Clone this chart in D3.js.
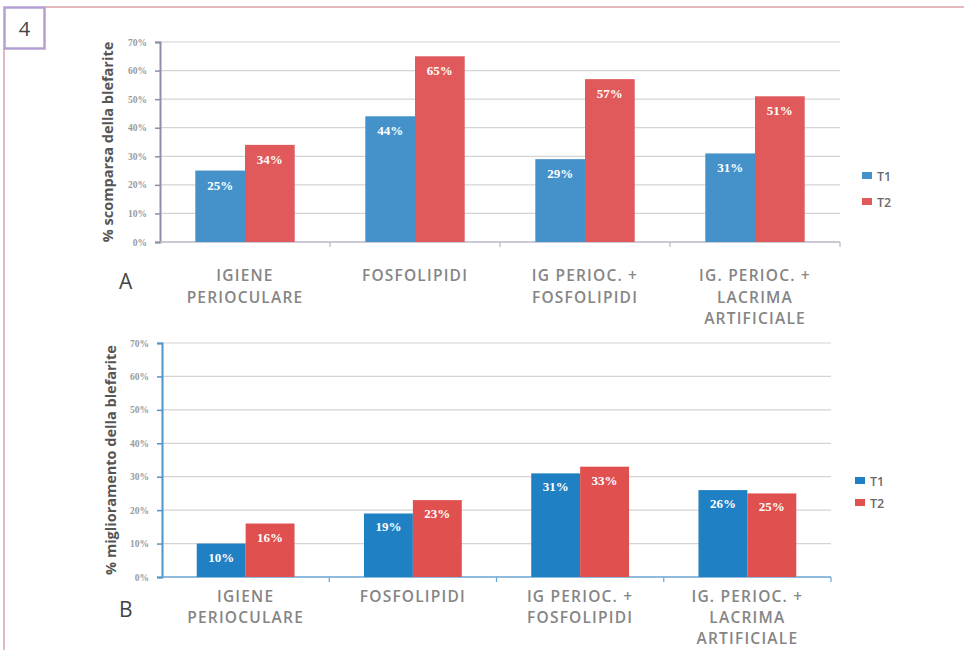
<!DOCTYPE html>
<html>
<head>
<meta charset="utf-8">
<script src="https://cdn.jsdelivr.net/npm/d3@7"></script>
<style>
  body { margin: 0; background: #fff; }
  svg { display: block; }
</style>
</head>
<body>
<svg id="fig" width="964" height="650"></svg>
<script>
// Categories (multi-line labels) shared by both panels
const categories = [
  ["IGIENE", "PERIOCULARE"],
  ["FOSFOLIPIDI"],
  ["IG PERIOC. +", "FOSFOLIPIDI"],
  ["IG. PERIOC. +", "LACRIMA", "ARTIFICIALE"]
];
const seriesNames = ["T1", "T2"];
const yTicks = [0, 10, 20, 30, 40, 50, 60, 70];

// Panel A: % scomparsa della blefarite
const scomparsaT1 = [25, 44, 29, 31];
const scomparsaT2 = [34, 65, 57, 51];
// Panel B: % miglioramento della blefarite
const miglioramentoT1 = [10, 19, 31, 26];
const miglioramentoT2 = [16, 23, 33, 25];

const svg = d3.select("#fig");

// Page frame and figure number box
svg.append("line").attr("x1", 45).attr("x2", 964).attr("y1", 7).attr("y2", 7)
  .attr("stroke", "#dba2a9").attr("stroke-width", 1.5);
svg.append("line").attr("x1", 4).attr("x2", 4).attr("y1", 48).attr("y2", 650)
  .attr("stroke", "#dba2a9").attr("stroke-width", 1.5);
svg.append("rect").attr("x", 4.5).attr("y", 7.5).attr("width", 40).attr("height", 41)
  .attr("fill", "#fff").attr("stroke", "#b59fd2").attr("stroke-width", 2.5);
svg.append("text").attr("x", 24.5).attr("y", 36).attr("text-anchor", "middle")
  .attr("font-family", "Open Sans, sans-serif").attr("font-size", 20)
  .attr("fill", "#444").text("4");

function drawPanel(opt) {
  const g = svg.append("g");
  const x = d3.scaleBand().domain(d3.range(categories.length))
    .range([opt.left, opt.right]).paddingInner(0).paddingOuter(0);
  const inner = d3.scaleBand().domain(seriesNames)
    .range([0, x.bandwidth()]).paddingInner(0).paddingOuter(0.71);
  const y = d3.scaleLinear().domain([0, 70]).range([opt.bottom, opt.top]);

  // gridlines
  g.append("g").selectAll("line").data(yTicks.slice(1)).join("line")
    .attr("x1", opt.left).attr("x2", opt.right)
    .attr("y1", d => y(d)).attr("y2", d => y(d))
    .attr("stroke", "#d4d4d4").attr("stroke-width", 1.2);

  // y axis
  const yAxis = g.append("g").attr("transform", `translate(${opt.left},0)`)
    .call(d3.axisLeft(y).tickValues(yTicks).tickFormat(d => d + "%").tickSize(5).tickPadding(8));
  yAxis.select(".domain").attr("stroke", opt.axisColor).attr("stroke-width", 2);
  yAxis.selectAll(".tick line").attr("stroke", opt.axisColor).attr("stroke-width", 1.5);
  yAxis.selectAll(".tick text").attr("fill", "#9a9a9a")
    .attr("font-family", "Liberation Serif, serif").attr("font-weight", "bold")
    .attr("font-size", 9.5);

  // x axis baseline with category ticks
  const xAxis = g.append("g").attr("transform", `translate(0,${opt.bottom})`);
  xAxis.append("line").attr("x1", opt.left).attr("x2", opt.right)
    .attr("stroke", opt.baseColor).attr("stroke-width", 1.5);
  xAxis.selectAll("line.tk").data(d3.range(1, categories.length + 1)).join("line")
    .attr("class", "tk")
    .attr("x1", d => opt.left + d * x.bandwidth()).attr("x2", d => opt.left + d * x.bandwidth())
    .attr("y1", 0).attr("y2", 5).attr("stroke", opt.baseColor).attr("stroke-width", 1.2);

  // bars
  const rows = categories.map((c, i) => ({ i, vals: [opt.t1[i], opt.t2[i]] }));
  const grp = g.append("g").selectAll("g").data(rows).join("g")
    .attr("transform", d => `translate(${x(d.i)},0)`);
  grp.selectAll("rect").data(d => d.vals.map((v, k) => ({ v, s: seriesNames[k] }))).join("rect")
    .attr("x", d => inner(d.s)).attr("width", inner.bandwidth())
    .attr("y", d => y(d.v)).attr("height", d => opt.bottom - y(d.v))
    .attr("fill", d => d.s === "T1" ? opt.blue : opt.red);
  grp.selectAll("text").data(d => d.vals.map((v, k) => ({ v, s: seriesNames[k] }))).join("text")
    .attr("x", d => inner(d.s) + inner.bandwidth() / 2)
    .attr("y", d => y(d.v) + opt.labelOffset)
    .attr("text-anchor", "middle")
    .attr("font-family", "Liberation Serif, serif").attr("font-weight", "bold")
    .attr("font-size", 13).attr("fill", "#fff")
    .text(d => d.v + "%");

  // category labels
  const cl = g.append("g").selectAll("text").data(categories).join("text")
    .attr("text-anchor", "middle")
    .attr("font-family", "Open Sans, sans-serif").attr("font-size", 15.5)
    .attr("font-weight", 600)
    .attr("letter-spacing", 1.2).attr("fill", "#858585")
    .attr("transform", (d, i) => `translate(${x(i) + x.bandwidth() / 2},${opt.catY})`);
  cl.selectAll("tspan").data(d => d).join("tspan")
    .attr("x", 0).attr("y", (d, k) => k * opt.catLine).text(d => d);

  // panel letter
  g.append("text").attr("x", 119).attr("y", opt.letterY)
    .attr("font-family", "Open Sans, sans-serif").attr("font-size", 21)
    .attr("fill", "#444").text(opt.letter);

  // y-axis title
  g.append("text")
    .attr("transform", `translate(${opt.titleX},${(opt.top + opt.bottom) / 2}) rotate(-90)`)
    .attr("text-anchor", "middle")
    .attr("font-family", "Open Sans, sans-serif").attr("font-weight", "bold")
    .attr("font-size", 14.5).attr("fill", "#555")
    .text(opt.title);

  // legend
  const lg = g.append("g").selectAll("g").data(seriesNames).join("g")
    .attr("transform", (d, k) => `translate(${opt.legX},${opt.legY + k * opt.legStep})`);
  lg.append("rect").attr("x", 0).attr("y", -4).attr("width", 10).attr("height", 7)
    .attr("fill", d => d === "T1" ? opt.blue : opt.red);
  lg.append("text").attr("x", 15).attr("y", 4.5)
    .attr("font-family", "Open Sans, sans-serif").attr("font-size", 12.5)
    .attr("font-weight", 600).attr("fill", "#6a6a6a").text(d => d);
}

drawPanel({
  left: 160, right: 840, top: 42, bottom: 242,
  t1: scomparsaT1, t2: scomparsaT2,
  blue: "#4592cb", red: "#e05a5c",
  axisColor: "#8c8cab", baseColor: "#b8b8c8",
  labelOffset: 19, catY: 281, catLine: 21.5,
  letter: "A", letterY: 289, titleX: 113,
  title: "% scomparsa della blefarite",
  legX: 862, legY: 176, legStep: 26
});

drawPanel({
  left: 162, right: 831, top: 343, bottom: 577,
  t1: miglioramentoT1, t2: miglioramentoT2,
  blue: "#1f80c3", red: "#e0504f",
  axisColor: "#4e94c9", baseColor: "#6aa5d3",
  labelOffset: 18, catY: 602, catLine: 21,
  letter: "B", letterY: 617, titleX: 116,
  title: "% miglioramento della blefarite",
  legX: 855, legY: 481, legStep: 22
});
</script>
</body>
</html>
